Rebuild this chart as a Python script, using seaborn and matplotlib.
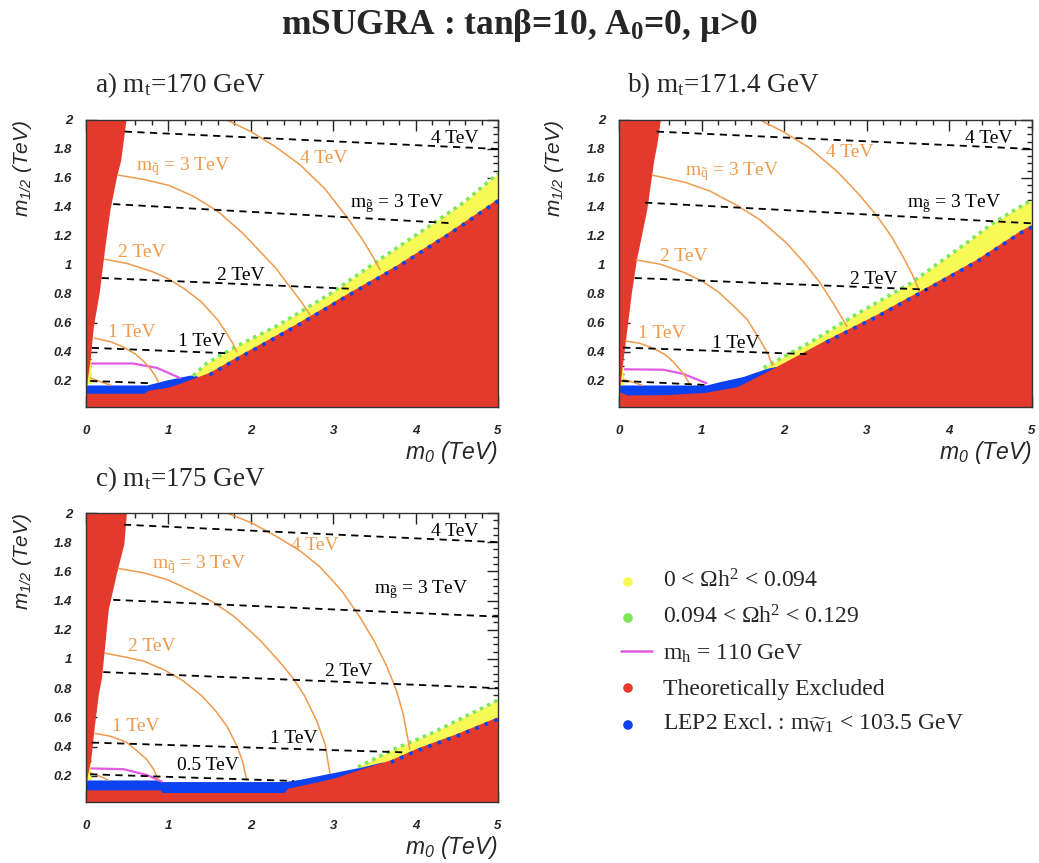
import numpy as np
import matplotlib
matplotlib.use("Agg")
import matplotlib.pyplot as plt
import seaborn as sns

# ---------------- text ----------------
TITLE = r"mSUGRA : tanβ=10, A$_\mathbf{0}$=0, μ>0"
PANEL_TITLES = [r"a) m$_\mathrm{t}$=170 GeV", r"b) m$_\mathrm{t}$=171.4 GeV", r"c) m$_\mathrm{t}$=175 GeV"]
X_TICKS = [0, 1, 2, 3, 4, 5]
X_TICK_LABELS = ["0", "1", "2", "3", "4", "5"]
Y_TICKS = [0.2, 0.4, 0.6, 0.8, 1.0, 1.2, 1.4, 1.6, 1.8, 2.0]
Y_TICK_LABELS = ["0.2", "0.4", "0.6", "0.8", "1", "1.2", "1.4", "1.6", "1.8", "2"]
XLABEL = r"$\mathsf{m_0}$ (TeV)"
YLABEL = r"$\mathsf{m_{1/2}}$ (TeV)"
LEGEND_LABELS = [r"0 < $\Omega$h$^2$ < 0.094", r"0.094 < $\Omega$h$^2$ < 0.129",
                 r"m$_\mathrm{h}$ = 110 GeV", "Theoretically Excluded",
                 r"LEP2 Excl. : m$_{\widetilde{\mathrm{W}}\mathrm{1}}$ < 103.5 GeV"]
SQ_LABELS = [r"m$_{\tilde{\mathrm{q}}}$ = 3 TeV", "2 TeV", "1 TeV", "4 TeV"]
GL_LABELS_AB = ["4 TeV", r"m$_{\tilde{\mathrm{g}}}$ = 3 TeV", "2 TeV", "1 TeV"]
GL_LABELS_C = ["4 TeV", r"m$_{\tilde{\mathrm{g}}}$ = 3 TeV", "2 TeV", "1 TeV", "0.5 TeV"]

# ---------------- panel a (mt = 170) ----------------
A_EXCL_X = [0.0, 0.70, 0.75, 1.0, 1.16, 1.5, 1.83, 2.56, 3.16, 3.77, 4.38, 5.0]
A_EXCL_Y = [0.115, 0.115, 0.135, 0.157, 0.188, 0.26, 0.368, 0.598, 0.80, 1.00, 1.22, 1.46]
A_LEP_X = [0.0, 0.74, 0.98, 1.26, 1.35]
A_LEP_Y = [0.172, 0.172, 0.207, 0.24, 0.235]
A_YEL_X = [1.3, 1.46, 1.83, 2.35, 2.96, 3.57, 4.17, 4.58, 5.0]
A_YEL_Y = [0.235, 0.32, 0.44, 0.59, 0.80, 1.04, 1.27, 1.43, 1.63]
A_WEDGE_Y = [0.15, 0.21, 0.35, 0.58, 0.81, 1.13, 1.38, 1.61, 1.72, 2.0]
A_WEDGE_X = [0.01, 0.016, 0.05, 0.09, 0.16, 0.23, 0.29, 0.37, 0.42, 0.485]
A_LYEL_X = [0.0, 0.08, 0.06, 0.04, 0.0]
A_LYEL_Y = [0.18, 0.18, 0.30, 0.46, 0.46]
A_MH_X = [0.07, 0.57, 0.86, 1.0, 1.14]
A_MH_Y = [0.32, 0.32, 0.29, 0.255, 0.22]
A_SQ05_X = [0.05, 0.15, 0.30]
A_SQ05_Y = [0.22, 0.20, 0.17]
A_SQ1_X = [0.10, 0.30, 0.45, 0.60, 0.70, 0.78, 0.84, 0.88]
A_SQ1_Y = [0.495, 0.47, 0.435, 0.385, 0.335, 0.285, 0.235, 0.19]
A_SQ2_X = [0.23, 0.50, 0.80, 1.00, 1.20, 1.40, 1.60, 1.70, 1.78, 1.83]
A_SQ2_Y = [1.04, 1.01, 0.955, 0.905, 0.833, 0.745, 0.62, 0.535, 0.46, 0.40]
A_SQ3_X = [0.39, 0.70, 1.00, 1.30, 1.60, 1.90, 2.10, 2.30, 2.50, 2.62, 2.72]
A_SQ3_Y = [1.62, 1.59, 1.55, 1.475, 1.37, 1.22, 1.10, 0.98, 0.83, 0.74, 0.655]
A_SQ4_X = [1.71, 2.00, 2.30, 2.60, 2.90, 3.16, 3.35, 3.50, 3.57]
A_SQ4_Y = [2.00, 1.92, 1.815, 1.69, 1.525, 1.335, 1.18, 1.04, 0.965]
A_GL_X = [[0.47, 5.0], [0.33, 4.44], [0.19, 3.24], [0.07, 1.75], [0.05, 0.78]]
A_GL_Y = [[1.92, 1.80], [1.42, 1.288], [0.91, 0.835], [0.428, 0.39], [0.20, 0.184]]
A_SQLAB_X = [0.61, 0.39, 0.27, 2.595]
A_SQLAB_Y = [1.65, 1.054, 0.50, 1.706]
A_GLLAB_X = [4.19, 3.20, 1.585, 1.12]
A_GLLAB_Y = [1.844, 1.398, 0.898, 0.443]

# ---------------- panel b (mt = 171.4) ----------------
B_EXCL_X = [0.0, 0.10, 0.55, 1.03, 1.43, 1.79, 2.51, 3.12, 3.73, 4.33, 4.85, 5.0]
B_EXCL_Y = [0.126, 0.103, 0.105, 0.12, 0.16, 0.265, 0.485, 0.66, 0.85, 1.04, 1.235, 1.28]
B_LEP_X = [0.0, 1.06, 1.22, 1.50, 1.79, 1.90]
B_LEP_Y = [0.172, 0.172, 0.195, 0.23, 0.287, 0.30]
B_YEL_X = [1.75, 2.31, 2.92, 3.52, 4.13, 4.53, 5.0]
B_YEL_Y = [0.29, 0.465, 0.675, 0.87, 1.12, 1.29, 1.45]
B_WEDGE_Y = [0.15, 0.21, 0.35, 0.58, 0.81, 1.035, 1.38, 1.72, 1.84, 2.0]
B_WEDGE_X = [0.01, 0.02, 0.05, 0.10, 0.15, 0.21, 0.335, 0.42, 0.46, 0.50]
B_LYEL_X = [0.0, 0.07, 0.05, 0.03, 0.0]
B_LYEL_Y = [0.17, 0.17, 0.28, 0.42, 0.42]
B_MH_X = [0.07, 0.54, 0.78, 1.06]
B_MH_Y = [0.28, 0.277, 0.248, 0.184]
B_SQ05_X = [0.05, 0.15, 0.28]
B_SQ05_Y = [0.21, 0.195, 0.17]
B_SQ1_X = [0.08, 0.25, 0.42, 0.56, 0.66, 0.75, 0.81, 0.86]
B_SQ1_Y = [0.475, 0.46, 0.425, 0.38, 0.33, 0.27, 0.225, 0.17]
B_SQ2_X = [0.21, 0.50, 0.80, 1.00, 1.20, 1.40, 1.55, 1.70, 1.80, 1.86]
B_SQ2_Y = [1.035, 1.005, 0.945, 0.89, 0.815, 0.71, 0.625, 0.49, 0.39, 0.31]
B_SQ3_X = [0.40, 0.80, 1.10, 1.43, 1.71, 2.03, 2.25, 2.43, 2.60, 2.76]
B_SQ3_Y = [1.62, 1.57, 1.51, 1.41, 1.31, 1.15, 1.01, 0.88, 0.73, 0.575]
B_SQ4_X = [1.71, 2.00, 2.30, 2.64, 2.90, 3.12, 3.30, 3.45, 3.55, 3.64]
B_SQ4_Y = [2.00, 1.915, 1.81, 1.645, 1.49, 1.34, 1.195, 1.045, 0.935, 0.816]
B_GL_X = [[0.456, 5.0], [0.315, 5.0], [0.19, 3.73], [0.05, 2.27], [0.03, 1.05]]
B_GL_Y = [[1.92, 1.80], [1.43, 1.287], [0.91, 0.83], [0.43, 0.385], [0.20, 0.172]]
B_SQLAB_X = [0.80, 0.50, 0.234, 2.50]
B_SQLAB_Y = [1.62, 1.024, 0.496, 1.747]
B_GLLAB_X = [4.19, 3.485, 2.80, 1.12]
B_GLLAB_Y = [1.844, 1.40, 0.87, 0.427]

# ---------------- panel c (mt = 175) ----------------
C_EXCL_X = [0.0, 0.90, 0.92, 2.40, 2.45, 2.73, 3.00, 3.36, 3.70, 4.01, 4.50, 5.0]
C_EXCL_Y = [0.103, 0.103, 0.085, 0.085, 0.114, 0.149, 0.183, 0.251, 0.31, 0.388, 0.49, 0.605]
C_LEP_X = [0.0, 0.90, 0.92, 2.41, 2.60, 2.96, 3.36, 3.60]
C_LEP_Y = [0.171, 0.171, 0.16, 0.16, 0.176, 0.217, 0.262, 0.295]
C_YEL_X = [3.30, 3.77, 4.17, 4.37, 4.90, 5.0]
C_YEL_Y = [0.26, 0.39, 0.485, 0.54, 0.69, 0.72]
C_WEDGE_Y = [0.15, 0.20, 0.31, 0.535, 0.76, 0.88, 1.11, 1.34, 1.59, 1.79, 2.0]
C_WEDGE_X = [0.01, 0.016, 0.057, 0.10, 0.15, 0.19, 0.23, 0.27, 0.37, 0.46, 0.49]
C_LYEL_X = [0.0, 0.07, 0.05, 0.03, 0.0]
C_LYEL_Y = [0.17, 0.17, 0.30, 0.45, 0.45]
C_MH_X = [0.07, 0.45, 0.74, 0.92]
C_MH_Y = [0.25, 0.245, 0.205, 0.16]
C_SQ05_X = [0.05, 0.15, 0.27]
C_SQ05_Y = [0.22, 0.20, 0.17]
C_SQ1_X = [0.11, 0.30, 0.49, 0.62, 0.74, 0.82, 0.88]
C_SQ1_Y = [0.49, 0.47, 0.43, 0.37, 0.31, 0.245, 0.17]
C_SQ2_X = [0.23, 0.50, 0.70, 0.95, 1.18, 1.40, 1.58, 1.72, 1.83, 1.90, 1.95]
C_SQ2_Y = [1.04, 1.01, 0.985, 0.925, 0.85, 0.75, 0.64, 0.53, 0.405, 0.30, 0.17]
C_SQ3_X = [0.39, 0.70, 0.98, 1.25, 1.54, 1.80, 2.11, 2.35, 2.51, 2.65, 2.80, 2.90, 2.96]
C_SQ3_Y = [1.62, 1.59, 1.545, 1.475, 1.39, 1.29, 1.13, 0.98, 0.87, 0.75, 0.575, 0.42, 0.217]
C_SQ4_X = [1.71, 2.00, 2.31, 2.60, 2.84, 3.10, 3.32, 3.50, 3.65, 3.77, 3.85, 3.93]
C_SQ4_Y = [2.00, 1.935, 1.84, 1.74, 1.63, 1.47, 1.29, 1.12, 0.95, 0.78, 0.62, 0.38]
C_GL_X = [[0.46, 5.0], [0.33, 5.0], [0.21, 5.0], [0.07, 3.87], [0.05, 2.52]]
C_GL_Y = [[1.92, 1.80], [1.405, 1.29], [0.91, 0.80], [0.427, 0.36], [0.21, 0.164]]
C_SQLAB_X = [0.80, 0.51, 0.31, 2.49]
C_SQLAB_Y = [1.622, 1.057, 0.508, 1.744]
C_GLLAB_X = [4.19, 3.50, 2.90, 2.23, 1.10]
C_GLLAB_Y = [1.844, 1.45, 0.883, 0.425, 0.242]

# ---------------- style ----------------
RED = "#e33a2d"
BLUE = "#0b42f2"
YELLOW = "#f9f956"
GREEN = "#80e857"
ORANGE = "#ef9a4c"
MAGENTA = "#e35ae4"
SERIF = "Liberation Serif"
SANS = "Liberation Sans"

sns.set_theme(style="ticks")
plt.rcParams["font.family"] = [SERIF, "DejaVu Serif"]
plt.rcParams["mathtext.fontset"] = "custom"
plt.rcParams["mathtext.rm"] = SERIF
plt.rcParams["mathtext.it"] = SERIF + ":italic"
plt.rcParams["mathtext.bf"] = SERIF + ":bold"
plt.rcParams["mathtext.sf"] = SANS + ":italic"

W, H = 1039, 863
fig = plt.figure(figsize=(W / 100, H / 100), dpi=100)
fig.patch.set_facecolor("white")


def px_axes(left, top, right, bottom):
    return fig.add_axes([left / W, 1 - bottom / H, (right - left) / W, (bottom - top) / H])


panels = [
    dict(excl=(A_EXCL_X, A_EXCL_Y), lep=(A_LEP_X, A_LEP_Y), yel=(A_YEL_X, A_YEL_Y),
         wedge=(A_WEDGE_X, A_WEDGE_Y), lyel=(A_LYEL_X, A_LYEL_Y), mh=(A_MH_X, A_MH_Y),
         sq=[(A_SQ05_X, A_SQ05_Y), (A_SQ1_X, A_SQ1_Y), (A_SQ2_X, A_SQ2_Y), (A_SQ3_X, A_SQ3_Y), (A_SQ4_X, A_SQ4_Y)],
         gl=(A_GL_X, A_GL_Y), sqlab=(A_SQLAB_X, A_SQLAB_Y), gllab=(A_GLLAB_X, A_GLLAB_Y, GL_LABELS_AB),
         box=(86, 120, 498, 407)),
    dict(excl=(B_EXCL_X, B_EXCL_Y), lep=(B_LEP_X, B_LEP_Y), yel=(B_YEL_X, B_YEL_Y),
         wedge=(B_WEDGE_X, B_WEDGE_Y), lyel=(B_LYEL_X, B_LYEL_Y), mh=(B_MH_X, B_MH_Y),
         sq=[(B_SQ05_X, B_SQ05_Y), (B_SQ1_X, B_SQ1_Y), (B_SQ2_X, B_SQ2_Y), (B_SQ3_X, B_SQ3_Y), (B_SQ4_X, B_SQ4_Y)],
         gl=(B_GL_X, B_GL_Y), sqlab=(B_SQLAB_X, B_SQLAB_Y), gllab=(B_GLLAB_X, B_GLLAB_Y, GL_LABELS_AB),
         box=(619, 120, 1032, 407)),
    dict(excl=(C_EXCL_X, C_EXCL_Y), lep=(C_LEP_X, C_LEP_Y), yel=(C_YEL_X, C_YEL_Y),
         wedge=(C_WEDGE_X, C_WEDGE_Y), lyel=(C_LYEL_X, C_LYEL_Y), mh=(C_MH_X, C_MH_Y),
         sq=[(C_SQ05_X, C_SQ05_Y), (C_SQ1_X, C_SQ1_Y), (C_SQ2_X, C_SQ2_Y), (C_SQ3_X, C_SQ3_Y), (C_SQ4_X, C_SQ4_Y)],
         gl=(C_GL_X, C_GL_Y), sqlab=(C_SQLAB_X, C_SQLAB_Y), gllab=(C_GLLAB_X, C_GLLAB_Y, GL_LABELS_C),
         box=(86, 513, 498, 802)),
]

for p in panels:
    ax = px_axes(*p["box"])
    ax.set_facecolor("white")
    ax.set_xlim(0, 5)
    ax.set_ylim(0.02, 2.0)

    # filled regions: yellow band, LEP band, excluded regions (drawn on top)
    yx, yy = p["yel"]
    ax.fill_between(yx, 0, yy, color=YELLOW, lw=0, zorder=1)
    ax.fill(p["lyel"][0], p["lyel"][1], color=YELLOW, lw=0, zorder=1)
    lx, ly = p["lep"]
    ax.fill_between(lx, 0, ly, color=BLUE, lw=0, zorder=2)
    ex, ey = p["excl"]
    ax.fill_between(ex, 0, ey, color=RED, lw=0, zorder=3)
    wx, wy = p["wedge"]
    ax.fill_betweenx(wy, 0, wx, color=RED, lw=0, zorder=3)

    # green dots on top of the yellow band, blue dots along the excluded edge
    sns.lineplot(x=yx, y=yy, ax=ax, color=GREEN, lw=2.6, linestyle=(0, (1, 1.2)),
                 sort=False, estimator=None, zorder=4)
    ex_arr, ey_arr = np.asarray(ex), np.asarray(ey)
    m = ex_arr >= lx[-1] - 0.1
    sns.lineplot(x=ex_arr[m], y=ey_arr[m] - 0.018, ax=ax, color=BLUE, lw=2.6,
                 linestyle=(0, (1, 1.8)), sort=False, estimator=None, zorder=4)

    # higgs mass contour
    sns.lineplot(x=p["mh"][0], y=p["mh"][1], ax=ax, color=MAGENTA, lw=1.6,
                 sort=False, estimator=None, zorder=5)
    # squark mass contours
    for sx, sy in p["sq"]:
        sns.lineplot(x=sx, y=sy, ax=ax, color=ORANGE, lw=1.1, sort=False,
                     estimator=None, zorder=5)
    # gluino mass contours
    for gx, gy in zip(*p["gl"]):
        sns.lineplot(x=gx, y=gy, ax=ax, color="black", lw=1.3, linestyle=(0, (4, 3)),
                     sort=False, estimator=None, zorder=6)

    for t, x, y in zip(SQ_LABELS, *p["sqlab"]):
        ax.text(x, y, t, color=ORANGE, fontsize=14, ha="left", va="baseline", zorder=7)
    gx_l, gy_l, gtxt = p["gllab"]
    for t, x, y in zip(gtxt, gx_l, gy_l):
        ax.text(x, y, t, color="black", fontsize=14, ha="left", va="baseline", zorder=7)

    ax.set_xticks(X_TICKS)
    ax.set_xticklabels(X_TICK_LABELS)
    ax.set_yticks(Y_TICKS)
    ax.set_yticklabels(Y_TICK_LABELS)
    ax.set_xticks(np.arange(0, 5.01, 0.2), minor=True)
    ax.set_yticks(np.arange(0.05, 2.001, 0.05), minor=True)
    ax.tick_params(which="both", direction="in", top=True, right=True, width=1.0,
                   color="#222222", zorder=8)
    ax.tick_params(which="major", length=8)
    ax.tick_params(which="minor", length=3.8)
    ax.tick_params(axis="x", which="major", pad=13)
    ax.tick_params(axis="y", which="major", pad=10)
    for lab in ax.get_xticklabels() + ax.get_yticklabels():
        lab.set_fontfamily(SANS)
        lab.set_fontstyle("italic")
        lab.set_fontweight("bold")
        lab.set_fontsize(9.5)
    for s in ax.spines.values():
        s.set_color("#333333")
        s.set_linewidth(1.0)
        s.set_zorder(9)
    ax.set_xlabel("")
    ax.set_ylabel("")
    ax.text(1.0, -0.158, XLABEL, transform=ax.transAxes, ha="right", va="center",
            fontsize=16.5, family=SANS, style="italic")
    ax.text(-0.155, 1.0, YLABEL, transform=ax.transAxes, ha="center", va="top",
            rotation=90, fontsize=15, family=SANS, style="italic")

# overlay for title, panel titles and legend (pixel coordinates)
ov = fig.add_axes([0, 0, 1, 1], zorder=20)
ov.set_xlim(0, W)
ov.set_ylim(H, 0)
ov.axis("off")
ov.patch.set_alpha(0)

ov.text(519, 25, TITLE, ha="center", va="center", fontsize=25.5, fontweight="bold")
for t, (x, y) in zip(PANEL_TITLES, [(95, 92), (627, 92), (95, 486)]):
    ov.text(x, y, t, ha="left", va="baseline", fontsize=19.5)

LEG_COLORS = [YELLOW, GREEN, MAGENTA, RED, BLUE]
LEG_MARK_Y = [582, 618, 651, 688, 725]
LEG_TEXT_Y = [587, 623, 660, 695, 730]
for i, (lab, c) in enumerate(zip(LEGEND_LABELS, LEG_COLORS)):
    if i == 2:
        ov.plot([621, 652], [LEG_MARK_Y[i], LEG_MARK_Y[i]], color=c, lw=1.8)
    else:
        ov.scatter([628], [LEG_MARK_Y[i]], s=48, color=c, edgecolors="none")
    ov.text(663, LEG_TEXT_Y[i], lab, ha="left", va="baseline", fontsize=17)

fig.savefig("out.png", dpi=100)
